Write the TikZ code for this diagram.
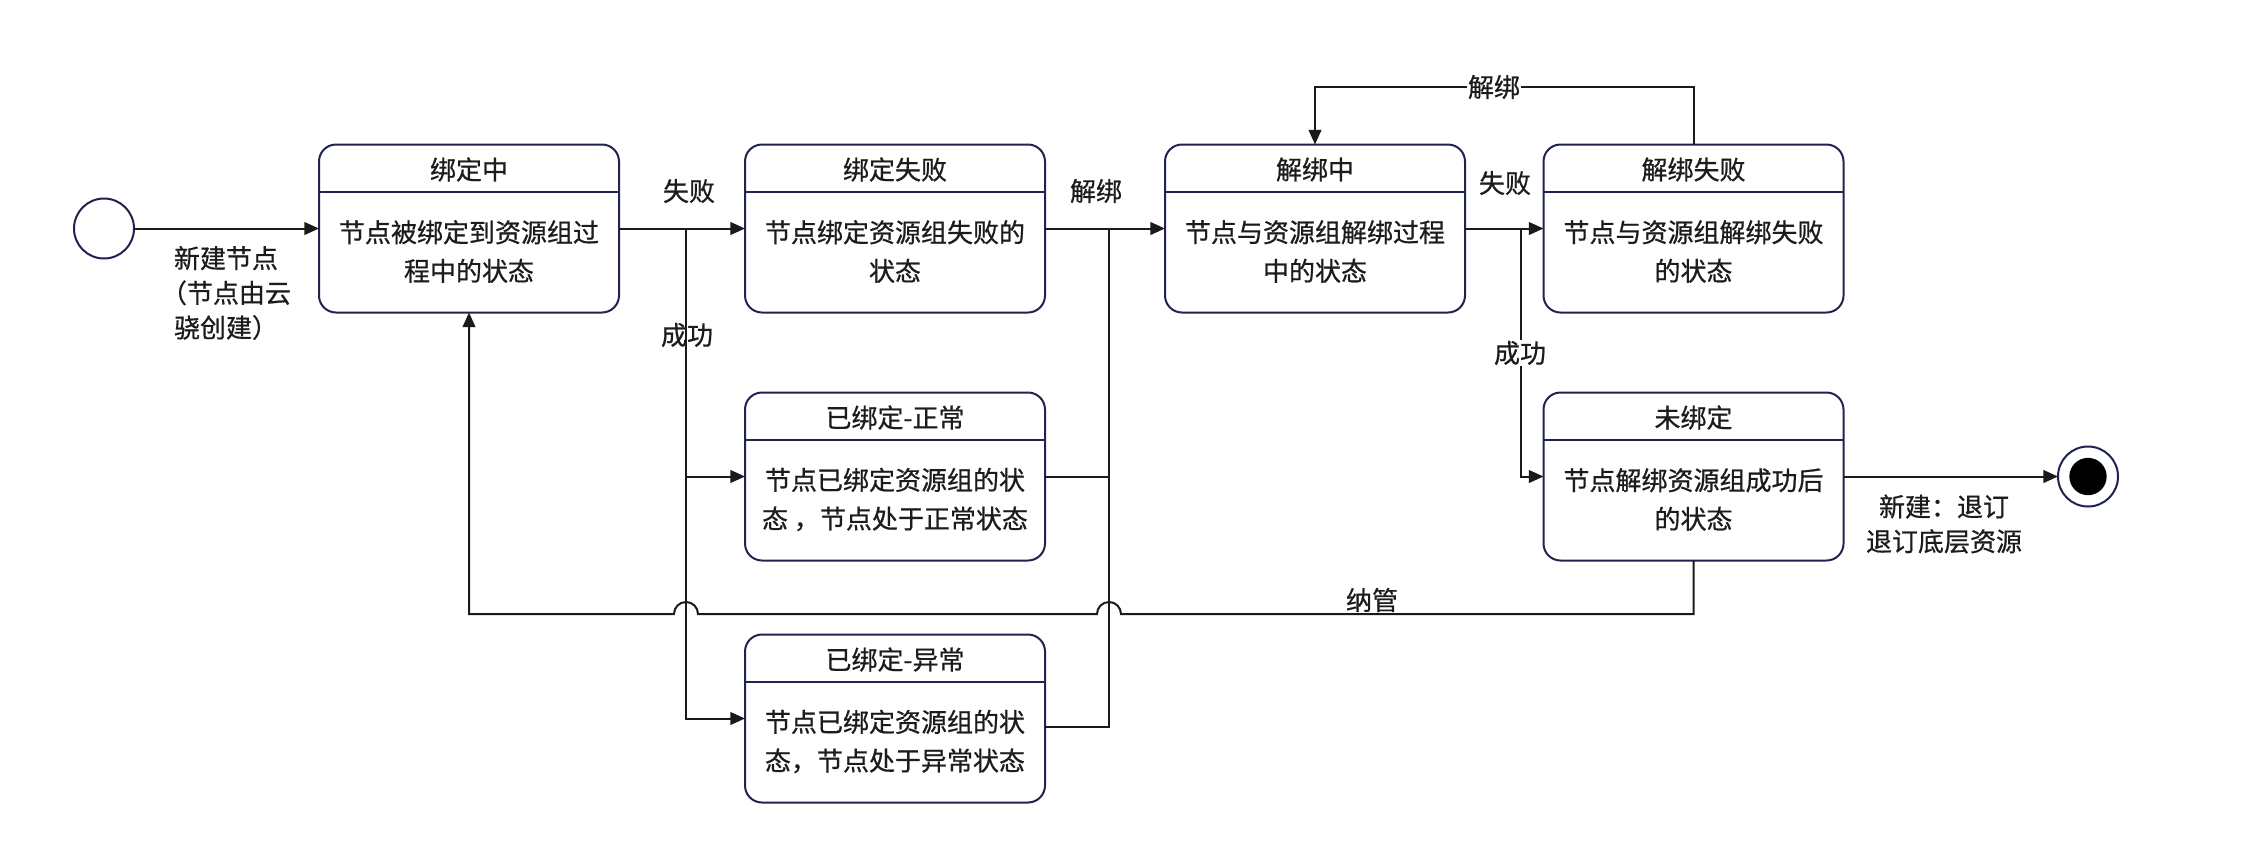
\documentclass[tikz,border=0pt]{standalone}
\usepackage{fontspec}
\setmainfont{Noto Sans CJK SC}[RawFeature={embolden=0.7}]
\usetikzlibrary{arrows.meta}

\definecolor{boxline}{HTML}{1E2350}
\definecolor{wirecol}{HTML}{1A1A1A}
\definecolor{txtcol}{HTML}{1C1C1C}

\tikzset{
    statebox/.style={draw=boxline, line width=1.5pt, rounded corners=12.75pt, fill=white,
        minimum width=225pt, minimum height=126pt, inner sep=0pt, outer sep=0pt},
    headline/.style={draw=boxline, line width=1.5pt},
    flow/.style={draw=wirecol, line width=1.5pt, -{Triangle[length=11pt,width=9.5pt]}},
    wire/.style={draw=wirecol, line width=1.5pt},
    lbl/.style={text=txtcol, inner sep=1pt, align=center, font=\fontsize{19.5pt}{29pt}\selectfont},
    edgelbl/.style={lbl, font=\fontsize{19.5pt}{26pt}\selectfont},
}

\newcommand{\umlstate}[5]{%
    \node[statebox] (#1) at (#2,#3) {};
    \draw[headline] (#1.north west) ++(0,47) -- ++(300,0);
    \path (#1.north) ++(0,25) node[lbl] (#1-title) {#4};
    \path (#1.north) ++(0,107) node[lbl] (#1-text) {#5};
}

\begin{document}
\begin{tikzpicture}[x=0.75pt, y=-0.75pt]
        \useasboundingbox (0,0) rectangle (2256,844);

        \umlstate{bind}{469}{228.5}{绑定中}{节点被绑定到资源组过\\程中的状态}
        \umlstate{bindfail}{895}{228.5}{绑定失败}{节点绑定资源组失败的\\状态}
        \umlstate{unbinding}{1315}{228.5}{解绑中}{节点与资源组解绑过程\\中的状态}
        \umlstate{unbindfail}{1693.5}{228.5}{解绑失败}{节点与资源组解绑失败\\的状态}
        \umlstate{boundok}{895}{476.5}{已绑定-正常}{节点已绑定资源组的状\\态 ，节点处于正常状态}
        \umlstate{boundbad}{895}{718.5}{已绑定-异常}{节点已绑定资源组的状\\态，节点处于异常状态}
        \umlstate{unbound}{1693.5}{476.5}{未绑定}{节点解绑资源组成功后\\的状态}

        \node[draw=boxline, line width=1.5pt, circle, minimum size=45pt, inner sep=0pt, outer sep=0pt] (init) at (104,228.5) {};
        \node[draw=boxline, line width=1.5pt, circle, minimum size=45pt, inner sep=0pt, outer sep=0pt] (final) at (2088,476.5) {};
        \node[fill=black, circle, minimum size=28pt, inner sep=0pt] (finaldot) at (final) {};

        \coordinate (forkA) at (686,228.5);
        \coordinate (joinA) at (1109,228.5);
        \coordinate (forkB) at (1521,228.5);
        \coordinate (bendA) at (1693.5,614);
        \coordinate (bendB) at (469,614);

        \draw[flow] (init) -- (bind);
        \draw[flow] (bind) -- (bindfail);
        \draw[flow] (forkA) |- (boundok);
        \draw[flow] (forkA) |- (boundbad);
        \draw[flow] (bindfail) -- (unbinding);
        \draw[wire] (boundok) -| (joinA);
        \draw[wire] (boundbad.east) ++(0,8) -| (joinA);
        \draw[flow] (unbinding) -- (unbindfail);
        \draw[flow] (forkB) |- (unbound);
        \draw[flow] (unbindfail.north) -- ++(0,-57.5) -| (unbinding.north);
        \draw[flow] (unbound) -- (final);
        \draw[flow] (unbound.south) -- (bendA) -- (1121,614)
            arc[start angle=0, end angle=180, radius=9pt] -- (698,614)
            arc[start angle=0, end angle=180, radius=9pt] -- (bendB) -- (bind.south);

        \node[edgelbl] (newnode) at (226,293) {新建节点\\（节点由云\\骁创建）};
        \node[lbl] (fail1) at (689,191) {失败};
        \node[lbl] (ok1) at (687,335) {成功};
        \node[lbl] (unbind1) at (1096,191) {解绑};
        \node[lbl] (fail2) at (1505,183) {失败};
        \node[lbl, fill=white] (ok2) at (1520,353) {成功};
        \node[lbl, fill=white] (unbind2) at (1494,87) {解绑};
        \node[lbl] (manage) at (1372,600) {纳管};
        \node[edgelbl] (cancel) at (1944,524) {新建：退订\\退订底层资源};
    \end{tikzpicture}
\end{document}
